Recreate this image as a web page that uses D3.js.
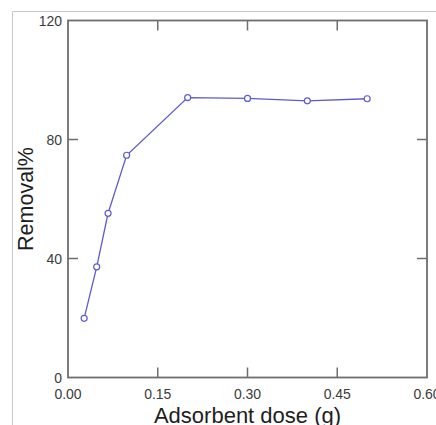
<!DOCTYPE html>
<html><head><meta charset="utf-8">
<script src="https://cdn.jsdelivr.net/npm/d3@7"></script>
<style>body{margin:0;background:#fff}svg{display:block}</style>
</head><body>
<script>
const dose = [0.027, 0.048, 0.067, 0.098, 0.2, 0.3, 0.4, 0.5];
const removal = [19.9, 37.2, 55.2, 74.7, 94.1, 93.8, 93.0, 93.7];
const xTicks = [0, 0.15, 0.30, 0.45, 0.60];
const yTicks = [0, 40, 80, 120];

const W = 436, H = 425;
const L = 68, R = 427, T = 20.5, B = 377.5;
const svg = d3.select("body").append("svg").attr("width", W).attr("height", H);

// outer light frame
svg.append("path").attr("d", `M12.5,${H} V11.5 H${W}`).attr("fill","none").attr("stroke","#c8c8c8").attr("stroke-width",1);

const x = d3.scaleLinear().domain([0, 0.6]).range([L, R]);
const y = d3.scaleLinear().domain([0, 120]).range([B, T]);

const axCol = "#6e6e6e", txtCol = "#3c3c3c";
const font = "Liberation Sans, Arial, sans-serif";

// inner ticks
const gT = svg.append("g").attr("stroke", axCol).attr("stroke-width", 1.5);
xTicks.slice(1, -1).forEach(t => {
  gT.append("line").attr("x1", x(t)).attr("x2", x(t)).attr("y1", B).attr("y2", B - 10);
  gT.append("line").attr("x1", x(t)).attr("x2", x(t)).attr("y1", T).attr("y2", T + 10);
});
yTicks.slice(1, -1).forEach(t => {
  gT.append("line").attr("x1", L).attr("x2", L + 10).attr("y1", y(t)).attr("y2", y(t));
  gT.append("line").attr("x1", R).attr("x2", R - 10).attr("y1", y(t)).attr("y2", y(t));
});

// frame
svg.append("rect").attr("x", L).attr("y", T).attr("width", R - L).attr("height", B - T)
  .attr("fill", "none").attr("stroke", axCol).attr("stroke-width", 1.8);

// tick labels
svg.append("g").selectAll("text").data(xTicks).join("text")
  .attr("x", d => x(d)).attr("y", 399).attr("text-anchor", "middle")
  .attr("font-family", font).attr("font-size", 14).attr("fill", txtCol)
  .text(d => d3.format(".2f")(d));
svg.append("g").selectAll("text").data(yTicks).join("text")
  .attr("x", 62).attr("y", d => y(d) + 5).attr("text-anchor", "end")
  .attr("font-family", font).attr("font-size", 14).attr("fill", txtCol)
  .text(d => d);

// axis titles
svg.append("text").attr("x", (L + R) / 2).attr("y", 423).attr("text-anchor", "middle")
  .attr("font-family", font).attr("font-size", 22).attr("fill", "#1e1e1e").text("Adsorbent dose (g)");
svg.append("text").attr("transform", `translate(33,${(T + B) / 2}) rotate(-90)`).attr("text-anchor", "middle")
  .attr("font-family", font).attr("font-size", 21.5).attr("fill", "#1e1e1e").text("Removal%");

// data
const pts = dose.map((d, i) => [d, removal[i]]);
const lineCol = "#5c5cd0";
svg.append("path").datum(pts)
  .attr("d", d3.line().x(d => x(d[0])).y(d => y(d[1])))
  .attr("fill", "none").attr("stroke", lineCol).attr("stroke-width", 1.3);
svg.append("g").selectAll("circle").data(pts).join("circle")
  .attr("cx", d => x(d[0])).attr("cy", d => y(d[1])).attr("r", 3)
  .attr("fill", "#fff").attr("stroke", lineCol).attr("stroke-width", 1.2);
</script>
</body></html>
